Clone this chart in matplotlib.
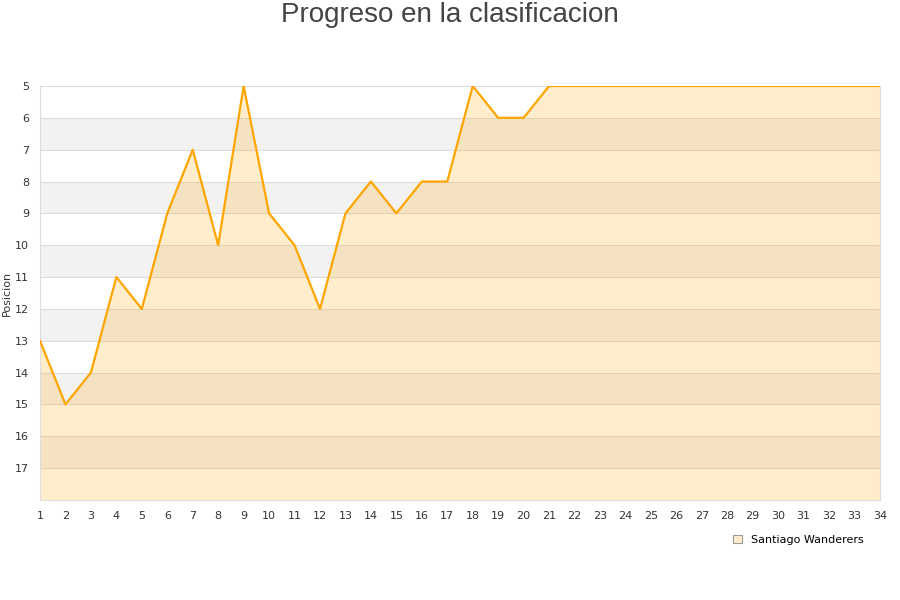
import matplotlib
matplotlib.use("Agg")
import matplotlib.pyplot as plt
from matplotlib.patches import Patch

jornadas = list(range(1, 35))
posicion = [13, 15, 14, 11, 12, 9, 7, 10, 5, 9, 10, 12, 9, 8, 9, 8, 8, 5, 6, 6, 5,
            5, 5, 5, 5, 5, 5, 5, 5, 5, 5, 5, 5, 5]
equipo = "Santiago Wanderers"
y_ticks = list(range(5, 18))

fig = plt.figure(figsize=(9, 6), dpi=100)
ax = fig.add_axes([40 / 900, 100 / 600, 840 / 900, 414 / 600])

# alternating background bands
for i, y in enumerate(range(5, 18)):
    if i % 2 == 1:
        ax.axhspan(y, y + 1, color="#f2f2f2", zorder=0, lw=0)
ax.grid(axis="y", color="#dddddd", lw=0.8, zorder=1)
ax.set_axisbelow(True)

ax.fill_between(jornadas, posicion, 18, color="#ffa500", alpha=0.2, lw=0, zorder=2)
ax.plot(jornadas, posicion, color="#ffa500", lw=1.6, zorder=3)

ax.set_xlim(1, 34)
ax.set_ylim(18, 5)
ax.set_xticks(jornadas)
ax.set_yticks(y_ticks)
ax.tick_params(length=0, labelsize=8, colors="#333333", pad=8)
for s in ax.spines.values():
    s.set_color("#dddddd")
    s.set_linewidth(0.8)

ax.set_ylabel("Posicion", fontsize=8, color="#333333", labelpad=2)
fig.text(0.5, 1 - 15 / 600, "Progreso en la clasificacion", fontsize=20,
         family="Liberation Sans", color="#444444", ha="center", va="center")

leg = fig.legend(handles=[Patch(facecolor="#ffedcc", edgecolor="#999999", lw=0.8, label=equipo)],
                 loc="center", bbox_to_anchor=(798 / 900, 1 - 540 / 600), frameon=False,
                 fontsize=8, handlelength=0.8, handleheight=0.8, handletextpad=0.8)

fig.savefig("out.png", dpi=100)
